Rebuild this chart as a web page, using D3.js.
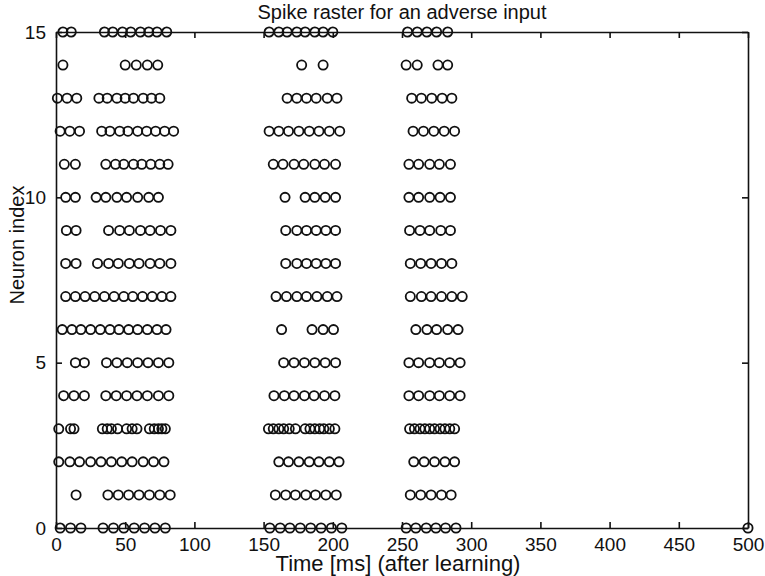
<!DOCTYPE html>
<html lang="en">
<head>
  <meta charset="UTF-8" />
  <title>Spike raster for an adverse input</title>
  <style>
    body {
      margin: 0;
      background: #fff;
    }
    svg {
      display: block;
      font-family: "Liberation Sans", Arial, sans-serif;
    }
    .tick text {
      font-size: 19px;
      fill: #111;
    }
    .tick line, .domain {
      stroke: #111;
      stroke-width: 1.6px;
    }
    .spike {
      fill: none;
      stroke: #111;
      stroke-width: 1.8px;
    }
    .label {
      font-size: 20px;
      fill: #111;
    }
  </style>
</head>
<body>
  <svg width="765" height="576"></svg>

  <script src="https://d3js.org/d3.v7.min.js"></script>
  <script>
    // spike times in ms, one list per neuron
    const neuron0 = [3, 10.5, 18, 34, 41.5, 49, 56.5, 64, 71.5, 79, 154.5, 162, 169, 176.5, 184, 191.5, 199, 206.5, 253, 260, 267.5, 274.5, 281.5, 289, 500];
    const neuron1 = [14.5, 37.5, 45, 52.5, 60, 67.5, 75, 82.5, 158.5, 166, 173, 180.5, 187.5, 195, 202.5, 256, 263.5, 271, 278.5, 285.5];
    const neuron2 = [2, 10, 17, 25, 32.5, 40, 47.5, 55, 63, 70.5, 78, 161, 168, 175.5, 183, 190, 197.5, 204.5, 258.5, 266, 273.5, 281, 288];
    const neuron3 = [2, 10.5, 13, 33.5, 37, 40, 44.5, 51, 55, 58.5, 67.5, 71, 74, 76.5, 79, 153.5, 157, 161, 164.5, 168.5, 173, 180, 183.5, 187, 190.5, 193.5, 197.5, 201.5, 255.5, 259, 263, 266.5, 270, 273.5, 277.5, 281, 284.5, 288];
    const neuron4 = [5.5, 13, 20.5, 36, 43.5, 51, 58.5, 66, 74, 81.5, 157.5, 165, 172, 179.5, 186.5, 194, 201.5, 255, 262, 270, 277, 284.5, 292];
    const neuron5 = [14, 20.5, 36.5, 44, 51.5, 59, 66.5, 74, 81.5, 164.5, 172, 179.5, 187, 194.5, 202, 255, 262, 270, 277, 284.5, 292];
    const neuron6 = [4.5, 11.5, 18, 25, 32, 39, 45.5, 52.5, 59, 66, 73, 79.5, 163, 185, 193, 200.5, 260, 268, 275, 283, 290.5];
    const neuron7 = [7, 14, 21, 28, 35, 42, 49, 55.5, 62.5, 69.5, 76.5, 83, 159, 166.5, 174, 181, 188.5, 196, 203, 256, 264, 271, 278.5, 286, 293.5];
    const neuron8 = [7, 14.5, 30, 38, 45, 53, 60, 68, 75, 83, 166, 174, 181, 188, 195, 202, 256, 263.5, 271, 278.5, 286];
    const neuron9 = [7.5, 14.5, 38, 46, 53, 61, 68, 75.5, 83, 166, 174, 181, 188, 195, 202, 255.5, 263, 270, 278, 285];
    const neuron10 = [7, 14, 29, 36, 44, 51, 59, 67, 74, 165.5, 180, 187, 194.5, 202, 255, 262, 270, 277.5, 285];
    const neuron11 = [6, 14, 36, 43, 49, 56, 62, 68.5, 75, 81, 157, 164, 172, 179, 187, 194, 202, 255, 262, 270, 277, 285];
    const neuron12 = [3, 10, 17, 33, 39, 46, 52, 59, 65.5, 72, 78.5, 85, 154, 161, 168, 175.5, 183, 190, 197.5, 205, 258, 265.5, 273, 280.5, 288];
    const neuron13 = [1, 8, 15, 31, 37, 44, 50, 56, 63, 69, 75, 167, 174, 181, 188, 196, 203, 257, 264, 271.5, 279, 286];
    const neuron14 = [5, 50, 58, 66, 73.5, 177.5, 193, 253, 261, 276, 283];
    const neuron15 = [5, 11, 35, 41, 48, 54, 61, 67, 73, 80, 154, 161, 167, 174, 180, 187, 193, 200, 254, 261, 268, 275, 283];

    const spikeRows = [neuron0, neuron1, neuron2, neuron3, neuron4, neuron5, neuron6, neuron7,
                       neuron8, neuron9, neuron10, neuron11, neuron12, neuron13, neuron14, neuron15];

    const xTicks = [0, 50, 100, 150, 200, 250, 300, 350, 400, 450, 500];
    const yTicks = [0, 5, 10, 15];

    const svg = d3.select("svg");
    const margin = { top: 32, right: 17, bottom: 48, left: 56 };
    const innerWidth = +svg.attr("width") - margin.left - margin.right;
    const innerHeight = +svg.attr("height") - margin.top - margin.bottom;

    const x = d3.scaleLinear().domain([0, 500]).range([0, innerWidth]);
    const y = d3.scaleLinear().domain([0, 15]).range([innerHeight, 0]);

    const g = svg.append("g")
      .attr("transform", `translate(${margin.left},${margin.top})`);

    // flatten to points
    const points = [];
    spikeRows.forEach((times, idx) => {
      times.forEach(t => points.push({ neuron: idx, t: t }));
    });

    // axes (matlab style: ticks inside, full box)
    g.append("g")
      .attr("transform", `translate(0,${innerHeight})`)
      .call(d3.axisBottom(x).tickValues(xTicks).tickSizeInner(-6).tickSizeOuter(0).tickPadding(10));
    g.append("g")
      .call(d3.axisTop(x).tickValues(xTicks).tickSizeInner(-6).tickSizeOuter(0))
      .selectAll("text").remove();
    g.append("g")
      .call(d3.axisLeft(y).tickValues(yTicks).tickSizeInner(-6).tickSizeOuter(0).tickPadding(10));
    g.append("g")
      .attr("transform", `translate(${innerWidth},0)`)
      .call(d3.axisRight(y).tickValues(yTicks).tickSizeInner(-6).tickSizeOuter(0))
      .selectAll("text").remove();

    g.selectAll(".spike")
      .data(points)
      .join("circle")
      .attr("class", "spike")
      .attr("cx", d => x(d.t))
      .attr("cy", d => y(d.neuron))
      .attr("r", 4.6);

    // title and labels
    svg.append("text")
      .attr("class", "label")
      .attr("x", margin.left + innerWidth / 2)
      .attr("y", 19)
      .attr("text-anchor", "middle")
      .text("Spike raster for an adverse input");

    svg.append("text")
      .attr("class", "label")
      .attr("x", 398)
      .attr("y", 571)
      .attr("text-anchor", "middle")
      .style("font-size", "22px")
      .text("Time [ms] (after learning)");

    svg.append("text")
      .attr("class", "label")
      .attr("transform", "translate(24,245) rotate(-90)")
      .attr("text-anchor", "middle")
      .text("Neuron index");
  </script>
</body>
</html>
